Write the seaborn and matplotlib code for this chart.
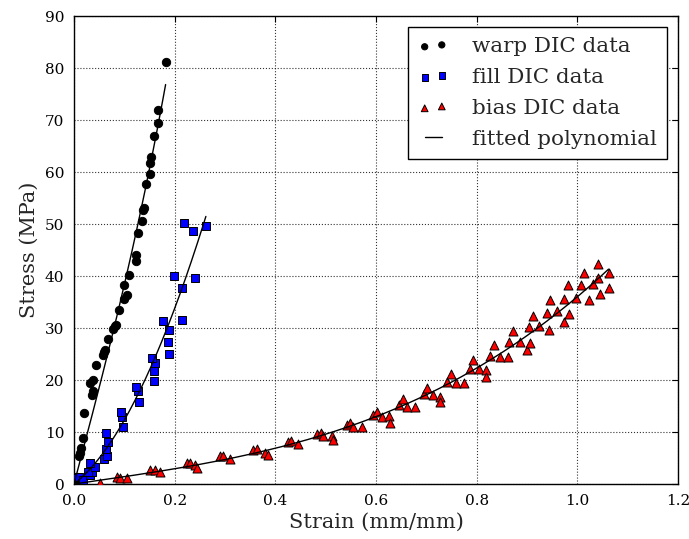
import numpy as np
import pandas as pd
import matplotlib
matplotlib.use('Agg')
import matplotlib.pyplot as plt
import seaborn as sns

# DIC data
warp_strain = [0.005, 0.009, 0.011, 0.013, 0.017, 0.020, 0.035, 0.038, 0.032, 0.038,
               0.044, 0.058, 0.060, 0.062, 0.068, 0.078, 0.081, 0.084, 0.089, 0.100,
               0.105, 0.100, 0.110, 0.123, 0.123, 0.128, 0.136, 0.138, 0.139, 0.144,
               0.151, 0.151, 0.153, 0.159, 0.166, 0.167, 0.182]
warp_stress = [1.4, 5.3, 6.0, 6.9, 8.8, 13.6, 17.1, 17.8, 19.4, 20.0,
               22.9, 24.8, 25.3, 25.8, 27.8, 29.9, 30.3, 30.6, 33.5, 35.5,
               36.3, 38.3, 40.2, 42.8, 44.0, 48.3, 50.6, 52.6, 53.0, 57.7,
               59.6, 61.8, 62.8, 66.9, 69.5, 71.9, 81.2]

fill_strain = [0.003, 0.009, 0.018, 0.032, 0.035, 0.028, 0.042, 0.032, 0.060, 0.066,
               0.064, 0.067, 0.064, 0.098, 0.096, 0.093, 0.129, 0.128, 0.123, 0.159,
               0.158, 0.161, 0.154, 0.189, 0.187, 0.189, 0.176, 0.215, 0.214, 0.199,
               0.240, 0.236, 0.219, 0.262]
fill_stress = [1.1, 1.4, 0.7, 1.7, 2.4, 2.4, 3.3, 4.0, 4.9, 5.3,
               6.7, 8.1, 9.9, 11.0, 12.8, 13.9, 15.7, 17.8, 18.7, 19.8,
               21.8, 23.2, 24.2, 25.0, 27.3, 29.6, 31.4, 31.5, 37.6, 40.0,
               39.7, 48.7, 50.1, 49.6]

bias_strain = [0.052, 0.085, 0.091, 0.105, 0.151, 0.161, 0.171, 0.224, 0.230, 0.240,
               0.244, 0.290, 0.297, 0.310, 0.356, 0.363, 0.380, 0.385, 0.426, 0.431,
               0.446, 0.482, 0.491, 0.495, 0.512, 0.515, 0.542, 0.548, 0.555, 0.572,
               0.595, 0.601, 0.611, 0.625, 0.627, 0.646, 0.653, 0.662, 0.678, 0.695,
               0.702, 0.713, 0.727, 0.727, 0.742, 0.749, 0.759, 0.775, 0.786, 0.792,
               0.804, 0.819, 0.819, 0.827, 0.835, 0.846, 0.863, 0.865, 0.873, 0.886,
               0.900, 0.905, 0.903, 0.911, 0.923, 0.939, 0.944, 0.946, 0.960, 0.974,
               0.974, 0.981, 0.984, 0.997, 1.007, 1.014, 1.023, 1.032, 1.042, 1.042,
               1.045, 1.062, 1.062]
bias_stress = [0.1, 1.4, 1.1, 1.1, 2.7, 2.7, 2.4, 4.0, 4.1, 3.7,
               3.0, 5.3, 5.4, 4.8, 6.5, 6.7, 6.0, 5.6, 8.1, 8.3,
               7.6, 9.7, 9.9, 9.2, 9.2, 8.5, 11.3, 11.8, 11.0, 11.0,
               13.3, 13.9, 12.9, 13.1, 11.8, 15.2, 16.3, 14.9, 14.9, 17.4,
               18.4, 17.1, 16.8, 15.8, 19.7, 21.1, 19.5, 19.4, 22.2, 23.8,
               22.1, 21.9, 20.6, 24.6, 26.7, 24.5, 24.5, 27.4, 29.4, 27.4,
               25.8, 27.2, 30.1, 32.4, 30.4, 32.9, 29.7, 35.4, 33.3, 35.5,
               31.2, 38.3, 32.7, 35.8, 38.3, 40.6, 35.4, 38.4, 42.4, 39.7,
               36.5, 40.5, 37.6]

x_ticks = [0.0, 0.2, 0.4, 0.6, 0.8, 1.0, 1.2]
y_ticks = [0, 10, 20, 30, 40, 50, 60, 70, 80, 90]


def fit_poly(x, y, powers):
    # least squares polynomial with no constant term (curve starts at the origin)
    x = np.asarray(x)
    A = np.column_stack([x**p for p in powers])
    coef = np.linalg.lstsq(A, np.asarray(y), rcond=None)[0]
    xs = np.linspace(0, x.max(), 200)
    ys = sum(c * xs**p for c, p in zip(coef, powers))
    return pd.DataFrame({'strain': xs, 'stress': ys})


sns.set_style('white')
plt.rcParams['font.family'] = ['DejaVu Serif']
plt.rcParams['mathtext.fontset'] = 'dejavuserif'

fig = plt.figure(figsize=(6.89, 5.39), dpi=100)
ax = fig.add_axes([74/689, 55/539, 604/689, 468/539])

sns.scatterplot(x=warp_strain, y=warp_stress, ax=ax, marker='o', color='black',
                edgecolor='black', linewidth=0.7, s=36, label='warp DIC data', zorder=3)
sns.scatterplot(x=fill_strain, y=fill_stress, ax=ax, marker='s', color='#0000ff',
                edgecolor='black', linewidth=0.7, s=37, label='fill DIC data', zorder=3)
sns.scatterplot(x=bias_strain, y=bias_stress, ax=ax, marker='^', color='#ff0000',
                edgecolor='black', linewidth=0.7, s=42, label='bias DIC data', zorder=3)

fits = [(warp_strain, warp_stress, [1, 3]),
        (fill_strain, fill_stress, [1, 2, 3]),
        (bias_strain, bias_stress, [1, 2, 3])]
first = True
for xs, ys, powers in fits:
    fit = fit_poly(xs, ys, powers)
    sns.lineplot(data=fit, x='strain', y='stress', ax=ax, color='black', linewidth=1.0,
                 sort=False, estimator=None, label='fitted polynomial' if first else None,
                 zorder=4)
    first = False

ax.set_xlim(0, 1.2)
ax.set_ylim(0, 90)
ax.set_xticks(x_ticks)
ax.set_yticks(y_ticks)
ax.set_xticklabels([f'{t:.1f}' for t in x_ticks])
ax.set_yticklabels([str(t) for t in y_ticks])
ax.tick_params(direction='in', top=True, right=True, length=4, width=0.8,
               labelsize=11, colors='black', pad=7)
ax.grid(True, linestyle=':', color='black', linewidth=0.8, alpha=0.8)
for sp in ax.spines.values():
    sp.set_color('black')
    sp.set_linewidth(1.0)

ax.set_xlabel('Strain (mm/mm)', fontsize=15)
ax.set_ylabel('Stress (MPa)', fontsize=15)

handles, labels = ax.get_legend_handles_labels()
leg = ax.legend(handles, labels, loc='upper right', scatterpoints=2, numpoints=2,
                markerscale=0.75, fancybox=False, edgecolor='black', framealpha=1,
                fontsize=15.4, labelspacing=0.55, handlelength=1.4, handletextpad=1.1,
                borderpad=0.5)
leg.get_frame().set_linewidth(1.0)

fig.savefig('out.png', dpi=100)
